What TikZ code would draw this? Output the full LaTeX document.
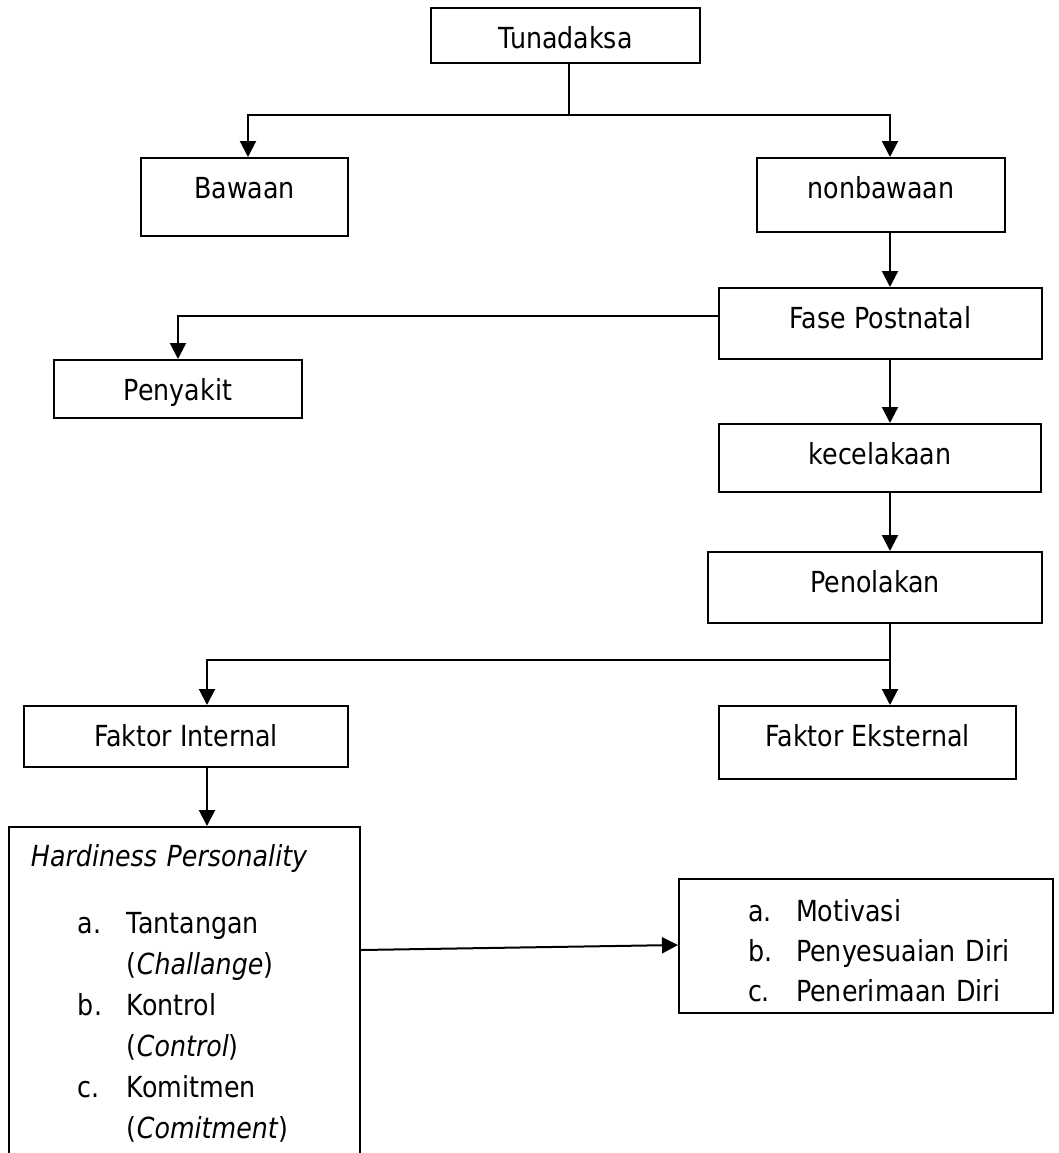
\documentclass[tikz,border=0pt]{standalone}
\usepackage{fontspec}
\setmainfont{DejaVu Sans}[FakeStretch=0.873]
\usetikzlibrary{arrows.meta}
\begin{document}
\begin{tikzpicture}[x=0.5pt,y=-0.5pt]
		% Styles
		\tikzstyle{kotak}=[draw,line width=1pt,anchor=north west,inner sep=0pt,text height=20pt,font=\fontsize{14.5pt}{20.5pt}\selectfont]
		\tikzstyle{daftar}=[kotak,align=left]
		\tikzstyle{garis}=[-,line width=1pt]
		\tikzstyle{panah}=[-{Triangle[width=8pt,length=8pt]},line width=1pt]
		% Dimensions
		\def\KolomTengah{569}
		\def\KolomKanan{890}
		\def\KolomKiri{207}
		\def\CabangA{115}
		\def\CabangB{316}
		\def\CabangC{660}
		\useasboundingbox (0,0) rectangle (1059,1153);
		% Noeuds
		\node[kotak,minimum width=134.5pt,text depth=7.5pt] (Tunadaksa) at (430,7) {Tunadaksa};
		\node[kotak,minimum width=103.5pt,text depth=19pt] (Bawaan) at (140,157) {Bawaan};
		\node[kotak,minimum width=124pt,text depth=17pt] (Nonbawaan) at (756,157) {nonbawaan};
		\node[kotak,minimum width=161.5pt,text depth=15.5pt] (Postnatal) at (718,287) {Fase Postnatal};
		\node[kotak,minimum width=124pt,text depth=9pt] (Penyakit) at (53,359) {Penyakit};
		\node[kotak,minimum width=161pt,text depth=14pt] (Kecelakaan) at (718,423) {kecelakaan};
		\node[kotak,minimum width=167pt,text depth=15.5pt] (Penolakan) at (707,551) {Penolakan};
		\node[kotak,minimum width=162pt,text depth=10.5pt] (Internal) at (23,705) {Faktor Internal};
		\node[kotak,minimum width=148.5pt,text depth=16.5pt] (Eksternal) at (718,705) {Faktor Eksternal};
		\node[daftar,text width=153.5pt,inner xsep=11pt,text height=19.5pt,text depth=160pt] (Hardiness) at (8,826) {\textit{Hardiness Personality}\\[13pt]
			\hspace*{23.5pt}\makebox[24.5pt][l]{a.}Tantangan\\
			\hspace*{48pt}(\textit{Challange})\\
			\hspace*{23.5pt}\makebox[24.5pt][l]{b.}Kontrol\\
			\hspace*{48pt}(\textit{Control})\\
			\hspace*{23.5pt}\makebox[24.5pt][l]{c.}Komitmen\\
			\hspace*{48pt}(\textit{Comitment})};
		\node[daftar,text width=187pt,text height=21pt,text depth=46pt,font=\fontsize{14.5pt}{20pt}\selectfont] (Hasil) at (678,878) {\hspace*{34.5pt}\makebox[24pt][l]{a.}Motivasi\\
			\hspace*{34.5pt}\makebox[24pt][l]{b.}Penyesuaian Diri\\
			\hspace*{34.5pt}\makebox[24pt][l]{c.}Penerimaan Diri};
		
		% Arcs
		\draw[panah] (Tunadaksa.south -| \KolomTengah,0) -- (\KolomTengah,\CabangA) -| (Bawaan.north -| 248,0);
		\draw[panah] (\KolomTengah,\CabangA) -| (Nonbawaan.north -| \KolomKanan,0);
		\draw[panah] (Nonbawaan.south -| \KolomKanan,0) -- (Postnatal.north -| \KolomKanan,0);
		\draw[panah] (Postnatal.west |- 0,\CabangB) -| (Penyakit.north);
		\draw[panah] (Postnatal.south -| \KolomKanan,0) -- (Kecelakaan.north -| \KolomKanan,0);
		\draw[panah] (Kecelakaan.south -| \KolomKanan,0) -- (Penolakan.north -| \KolomKanan,0);
		\draw[panah] (Penolakan.south -| \KolomKanan,0) -- (Eksternal.north -| \KolomKanan,0);
		\draw[panah] (\KolomKanan,\CabangC) -| (Internal.north -| \KolomKiri,0);
		\draw[panah] (Internal.south -| \KolomKiri,0) -- (Hardiness.north -| \KolomKiri,0);
		\draw[panah] (Hardiness.east |- 0,950) -- (Hasil.west |- 0,945);
		
	\end{tikzpicture}
\end{document}
